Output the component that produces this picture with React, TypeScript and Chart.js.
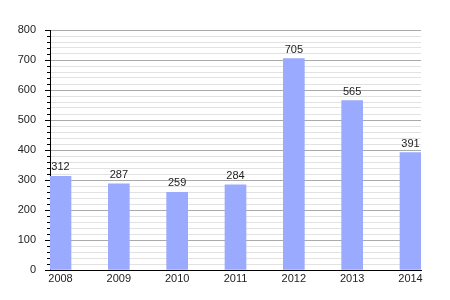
import React, { useEffect, useRef } from "react";
import { Chart, registerables } from "chart.js";

Chart.register(...registerables);

const years = ["2008", "2009", "2010", "2011", "2012", "2013", "2014"];
const values = [312, 287, 259, 284, 705, 565, 391];
const yMax = 800;
const yMinorStep = 20;
const yMajorStep = 100;

const FONT = "'Liberation Sans', Arial, sans-serif";

const tickMarks = {
  id: "tickMarks",
  afterDraw(chart: any) {
    const ctx = chart.ctx;
    const y = chart.scales.y;
    const left = chart.chartArea.left;
    ctx.save();
    ctx.strokeStyle = "#000";
    ctx.lineWidth = 1;
    for (let v = 0; v <= yMax; v += yMinorStep) {
      const py = Math.round(y.getPixelForValue(v)) + 0.5;
      const len = v % yMajorStep === 0 ? 5 : 3;
      ctx.beginPath();
      ctx.moveTo(left - len, py);
      ctx.lineTo(left, py);
      ctx.stroke();
    }
    ctx.restore();
  },
};

const barLabels = {
  id: "barLabels",
  afterDatasetsDraw(chart: any) {
    const ctx = chart.ctx;
    const meta = chart.getDatasetMeta(0);
    ctx.save();
    ctx.font = `11px ${FONT}`;
    ctx.fillStyle = "#222";
    ctx.textAlign = "center";
    ctx.textBaseline = "middle";
    meta.data.forEach((bar: any, i: number) => {
      ctx.fillText(String(values[i]), bar.x, bar.y - 9);
    });
    ctx.restore();
  },
};

export default function App() {
  const ref = useRef<HTMLCanvasElement>(null);
  useEffect(() => {
    const chart = new Chart(ref.current!, {
      type: "bar",
      data: {
        datasets: [
          {
            data: values.map((v, i) => ({ x: i, y: v })),
            backgroundColor: "#99aaff",
            barThickness: 21,
          },
        ],
      },
      options: {
        animation: false,
        responsive: false,
        layout: { padding: { top: 30, right: 29, left: 0, bottom: 0 } },
        plugins: { legend: { display: false }, tooltip: { enabled: false } },
        scales: {
          x: {
            type: "linear",
            offset: false,
            min: -0.18,
            max: 6.18,
            afterBuildTicks: (axis: any) => {
              axis.ticks = years.map((_, i) => ({ value: i }));
            },
            afterFit: (axis: any) => {
              axis.height = 30;
            },
            grid: { display: false, drawTicks: false, offset: false },
            border: { display: true, color: "#000", width: 1 },
            ticks: {
              autoSkip: false,
              maxRotation: 0,
              padding: 2,
              color: "#222",
              font: { family: FONT, size: 11 },
              callback: (v: any) => years[Math.round(v)] ?? "",
            },
          },
          y: {
            min: 0,
            max: yMax,
            afterBuildTicks: (axis: any) => {
              const t = [];
              for (let v = 0; v <= yMax; v += yMinorStep) t.push({ value: v });
              axis.ticks = t;
            },
            afterFit: (axis: any) => {
              axis.width = 50;
            },
            grid: {
              drawTicks: false,
              color: (c: any) =>
                c.tick && c.tick.value % yMajorStep === 0 ? "#aaaaaa" : "#e2e2e2",
            },
            border: { display: true, color: "#000", width: 1 },
            ticks: {
              autoSkip: false,
              padding: 14,
              color: "#222",
              font: { family: FONT, size: 11 },
              callback: (v: any) => (v % yMajorStep === 0 ? String(v) : ""),
            },
          },
        },
      },
      plugins: [tickMarks, barLabels],
    });
    return () => chart.destroy();
  }, []);
  return (
    <div style={{ position: "fixed", left: 0, top: 0, width: 450, height: 300, background: "#fff" }}>
      <canvas ref={ref} width={450} height={300} style={{ width: 450, height: 300 }} />
    </div>
  );
}
